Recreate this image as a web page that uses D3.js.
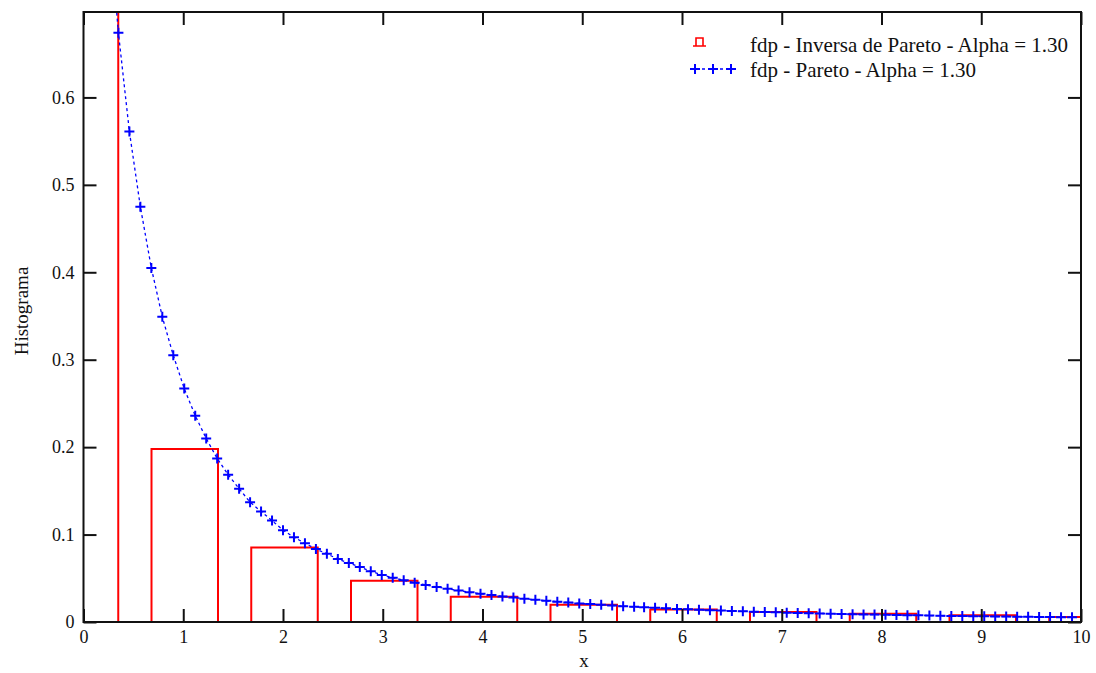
<!DOCTYPE html>
<html>
<head>
<meta charset="utf-8">
<script src="https://cdn.jsdelivr.net/npm/d3@7"></script>
<style>
  html, body { margin: 0; padding: 0; background: #fff; }
  svg { display: block; }
  text { font-family: "Liberation Serif", "DejaVu Serif", serif; fill: #111; }
</style>
</head>
<body>
<svg id="chart" width="1096" height="673"></svg>
<script>
// Histogram of the inverse Pareto sample (bar centres and heights)
const binCenters = [0, 1, 2, 3, 4, 5, 6, 7, 8, 9, 10];
const binHeights = [0.95, 0.198, 0.0853, 0.0473, 0.029, 0.0198, 0.0144, 0.0114, 0.0095, 0.0076, 0.0057];

// Pareto density evaluated on a grid (alpha = 1.30)
const paretoX = [0.24, 0.35, 0.46, 0.57, 0.68, 0.79, 0.90, 1.01, 1.12, 1.23, 1.34, 1.45, 1.56, 1.67, 1.78, 1.89,
  2.00, 2.11, 2.22, 2.33, 2.44, 2.55, 2.66, 2.77, 2.88, 2.99, 3.10, 3.21, 3.32, 3.43, 3.54, 3.65,
  3.76, 3.87, 3.98, 4.09, 4.20, 4.31, 4.42, 4.53, 4.64, 4.75, 4.86, 4.97, 5.08, 5.19, 5.30, 5.41,
  5.52, 5.62, 5.73, 5.84, 5.95, 6.06, 6.17, 6.28, 6.39, 6.50, 6.61, 6.72, 6.83, 6.94, 7.05, 7.16,
  7.27, 7.38, 7.49, 7.60, 7.71, 7.82, 7.93, 8.04, 8.15, 8.26, 8.37, 8.48, 8.59, 8.70, 8.81, 8.92,
  9.03, 9.14, 9.25, 9.36, 9.47, 9.58, 9.69, 9.80, 9.91];
const paretoY = [0.82, 0.674, 0.561, 0.475, 0.405, 0.349, 0.305, 0.267, 0.236, 0.210, 0.187, 0.1685, 0.1525, 0.137, 0.1265, 0.116,
  0.105, 0.097, 0.090, 0.0835, 0.078, 0.072, 0.0675, 0.063, 0.058, 0.0539, 0.0507, 0.0477, 0.0449, 0.0424, 0.0401, 0.0379,
  0.0359, 0.0341, 0.0324, 0.0308, 0.0293, 0.0280, 0.0267, 0.0255, 0.0243, 0.0233, 0.0223, 0.0213, 0.0205, 0.0196, 0.0189, 0.0181,
  0.0174, 0.0168, 0.0162, 0.0156, 0.0150, 0.0145, 0.0140, 0.0135, 0.0131, 0.0126, 0.0122, 0.0118, 0.0114, 0.0111, 0.0107, 0.0104,
  0.0101, 0.0098, 0.0095, 0.0092, 0.0090, 0.0087, 0.0085, 0.0082, 0.0080, 0.0078, 0.0076, 0.0074, 0.0072, 0.0070, 0.0068, 0.0066,
  0.0065, 0.0063, 0.0062, 0.0060, 0.0059, 0.0057, 0.0056, 0.0055, 0.0053];

// Axis ticks and labels
const xTicks = [0, 1, 2, 3, 4, 5, 6, 7, 8, 9, 10];
const yTicks = [0, 0.1, 0.2, 0.3, 0.4, 0.5, 0.6];
const legendLabels = ["fdp - Inversa de Pareto - Alpha = 1.30", "fdp - Pareto - Alpha = 1.30"];
const xTitle = "x";
const yTitle = "Histograma";

(function draw() {
  const svg = d3.select("#chart");
  const pLeft = 83.5, pRight = 1081, pTop = 12, pBottom = 622;
  const x = d3.scaleLinear().domain([0, 10]).range([pLeft, pRight]);
  const y = d3.scaleLinear().domain([0, 0.6977]).range([pBottom, pTop]);
  const barHalf = 1 / 3;

  svg.append("defs").append("clipPath").attr("id", "plotClip")
    .append("rect").attr("x", pLeft).attr("y", pTop).attr("width", pRight - pLeft).attr("height", pBottom - pTop);

  const plot = svg.append("g").attr("clip-path", "url(#plotClip)");

  // Histogram bars: open outlines (left, top, right)
  plot.selectAll("path.bar").data(binCenters.map((c, i) => ({ c, h: binHeights[i] })))
    .join("path").attr("class", "bar")
    .attr("d", d => {
      const x0 = x(d.c - barHalf) + 1.5, x1 = x(d.c + barHalf) + 1.5, yt = y(d.h);
      return `M${x0},${pBottom}V${yt}H${x1}V${pBottom}`;
    })
    .attr("fill", "none").attr("stroke", "#ff0000").attr("stroke-width", 2);

  // Pareto density: dotted line with cross markers
  const pts = paretoX.map((v, i) => [v, paretoY[i]]);
  plot.append("path").datum(pts)
    .attr("d", d3.line().x(d => x(d[0])).y(d => y(d[1])))
    .attr("fill", "none").attr("stroke", "#0000ff").attr("stroke-width", 1.3)
    .attr("stroke-dasharray", "3,3");
  plot.selectAll("path.mk").data(pts).join("path").attr("class", "mk")
    .attr("transform", d => `translate(${x(d[0])},${y(d[1])})`)
    .attr("d", "M-5,0H5M0,-5V5")
    .attr("stroke", "#0000ff").attr("stroke-width", 2).attr("fill", "none");

  // Frame and inward ticks
  const tickLen = 13;
  const axisStyle = g => {
    g.select(".domain").remove();
    g.selectAll(".tick line").attr("stroke", "#111").attr("stroke-width", 2);
    g.selectAll(".tick text").style("font-size", "18px").attr("fill", "#111");
  };
  svg.append("g").attr("transform", `translate(0,${pBottom})`)
    .call(d3.axisBottom(x).tickValues(xTicks).tickSizeInner(-tickLen).tickSizeOuter(0).tickPadding(8).tickFormat(d3.format("d")))
    .call(axisStyle);
  svg.append("g").attr("transform", `translate(0,${pTop})`)
    .call(d3.axisTop(x).tickValues(xTicks).tickSizeInner(-tickLen).tickSizeOuter(0).tickFormat(""))
    .call(axisStyle);
  svg.append("g").attr("transform", `translate(${pLeft},0)`)
    .call(d3.axisLeft(y).tickValues(yTicks).tickSizeInner(-tickLen).tickSizeOuter(0).tickPadding(9)
      .tickFormat(d => d === 0 ? "0" : d3.format(".1f")(d)))
    .call(axisStyle);
  svg.append("g").attr("transform", `translate(${pRight},0)`)
    .call(d3.axisRight(y).tickValues(yTicks).tickSizeInner(-tickLen).tickSizeOuter(0).tickFormat(""))
    .call(axisStyle);

  svg.append("rect").attr("x", pLeft).attr("y", pTop).attr("width", pRight - pLeft).attr("height", pBottom - pTop)
    .attr("fill", "none").attr("stroke", "#111").attr("stroke-width", 2);

  // Axis titles
  svg.append("text").attr("x", 584).attr("y", 667).attr("text-anchor", "middle")
    .style("font-size", "19px").text(xTitle);
  svg.append("text").attr("transform", "translate(28,311) rotate(-90)").attr("text-anchor", "middle")
    .style("font-size", "19px").text(yTitle);

  // Legend
  const lg = svg.append("g");
  lg.append("path").attr("d", "M693,46H706M696,46V38H703V46")
    .attr("fill", "none").attr("stroke", "#ff0000").attr("stroke-width", 1.6);
  lg.append("line").attr("x1", 690).attr("x2", 735).attr("y1", 69).attr("y2", 69)
    .attr("stroke", "#0000ff").attr("stroke-width", 1.3).attr("stroke-dasharray", "3,3");
  lg.selectAll("path.lmk").data([695, 713, 731]).join("path").attr("class", "lmk")
    .attr("transform", d => `translate(${d},69)`).attr("d", "M-5,0H5M0,-5V5")
    .attr("stroke", "#0000ff").attr("stroke-width", 2);
  lg.selectAll("text").data(legendLabels).join("text")
    .attr("x", 750).attr("y", (d, i) => 52 + i * 25)
    .style("font-size", "21px").text(d => d);
})();
</script>
</body>
</html>
